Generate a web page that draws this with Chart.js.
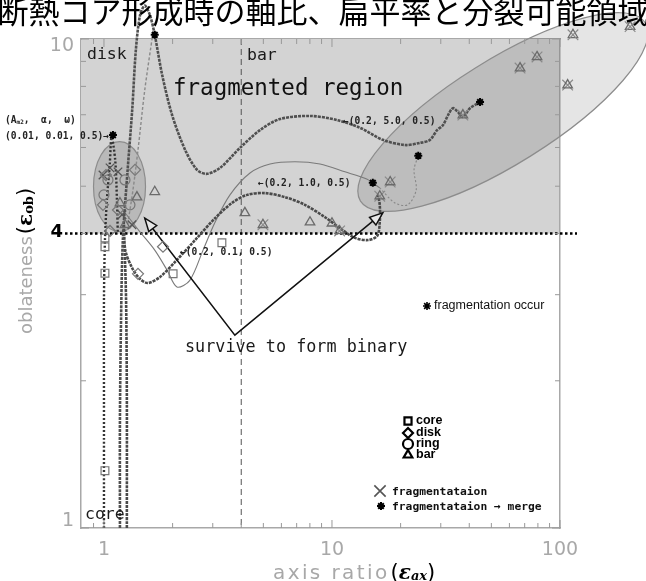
<!DOCTYPE html>
<html>
<head>
<meta charset="utf-8">
<script src="https://cdn.jsdelivr.net/npm/chart.js@4.4.1/dist/chart.umd.min.js"></script>
<style>
  html, body { margin: 0; background: #fff; }
  #wrap { width: 646px; height: 581px; position: relative; }
</style>
</head>
<body>
<div id="wrap"><canvas id="chart"></canvas></div>
<script>
// ---------- Data ----------
const xTickLabels = [1, 10, 100];
const yTickLabels = [1, 4, 10];
const xTicks = [0.8, 0.9, 1, 2, 3, 4, 5, 6, 7, 8, 9, 10, 20, 30, 40, 50, 60, 70, 80, 90, 100];
const yTicks = [1, 2, 3, 4, 5, 6, 7, 8, 9, 10];

// evolution tracks (axis ratio, oblateness)
const track50 = [ // (0.2, 5.0, 0.5)
  [1.175, 1.0], [1.175, 1.66], [1.188, 2.66], [1.21, 3.88], [1.27, 5.40], [1.33, 7.16],
  [1.38, 9.50], [1.44, 11.2], [1.51, 11.7], [1.59, 11.2], [1.67, 10.2], [1.80, 8.44],
  [1.99, 6.99], [2.27, 5.93], [2.56, 5.40], [2.83, 5.30], [3.23, 5.45], [3.95, 5.99],
  [4.83, 6.51], [5.91, 6.86], [8.01, 6.96], [10.5, 6.83], [13.3, 6.58], [16.7, 6.22],
  [20.9, 6.07], [24.3, 6.13], [26.9, 6.22], [28.9, 6.51], [30.7, 6.67], [32.3, 6.99],
  [33.9, 7.22], [35.7, 7.09], [37.5, 6.93], [40.3, 7.22], [44.6, 7.43]
];
const track001 = [ // (0.01, 0.01, 0.5)
  [1.0, 1.0], [1.0, 1.83], [1.0, 2.93], [1.01, 3.88], [1.03, 4.69], [1.06, 5.53],
  [1.08, 6.30], [1.12, 5.66], [1.14, 4.69], [1.15, 4.0]
];
const track01 = [ // (0.2, 0.1, 0.5)
  [1.26, 1.0], [1.26, 1.83], [1.25, 2.93], [1.224, 4.17], [1.24, 3.70], [1.33, 3.40],
  [1.44, 3.23], [1.56, 3.17], [1.76, 3.26], [2.05, 3.50], [2.51, 3.88], [3.07, 4.30],
  [3.64, 4.62], [4.24, 4.80], [5.08, 4.84], [6.22, 4.75], [7.61, 4.58], [9.32, 4.32],
  [11.1, 4.07], [12.6, 3.92], [14.4, 3.88], [15.8, 3.96], [16.2, 4.22], [16.2, 4.58], [15.9, 4.80]
];
const track10 = [ // (0.2, 1.0, 0.5)
  [1.21, 4.47], [1.44, 4.03], [1.67, 3.70], [1.89, 3.37], [2.09, 3.11], [2.38, 3.21],
  [2.72, 3.70], [3.07, 4.22], [3.57, 4.80], [4.37, 5.32], [5.35, 5.55], [6.88, 5.61],
  [8.86, 5.55], [11.4, 5.35], [14.2, 5.17], [16.2, 4.96]
];
const track10tail = [[16.2, 4.96], [18.9, 4.62], [21.5, 4.58], [23.4, 4.91], [22.9, 5.40], [23.9, 5.77]];
const trackMerge = [[1.64, 10.3], [1.51, 7.87], [1.41, 5.93], [1.34, 4.91], [1.27, 4.17]];
const binaryArrow = [[1.51, 4.30], [3.75, 2.48], [16.7, 4.41]];

// end states
const coreMarks = [[1.01, 3.92], [1.01, 3.76], [1.01, 3.32], [1.01, 1.31], [2.01, 3.31], [3.29, 3.83]];
const diskMarks = [[1.41, 3.31], [1.815, 3.76], [0.99, 4.58], [1.02, 5.27], [1.152, 4.47], [1.368, 5.40], [1.063, 4.05]];
const ringMarks = [[1.041, 5.15], [1.236, 5.15], [1.30, 4.58], [1.0, 4.80]];
const barMarks = [[1.175, 4.62], [1.395, 4.75], [1.67, 4.87], [4.15, 4.41], [8.01, 4.22], [10.0, 4.20], [1.236, 4.17]];
const fragBar = [[114, 10.2], [203, 10.6], [79.3, 9.19], [66.8, 8.72], [108, 8.05], [37.5, 6.99],
  [18.0, 5.10], [16.2, 4.77], [4.98, 4.17], [10.8, 4.05]];
const fragOther = [[0.99, 5.27], [1.063, 5.45], [1.152, 5.35], [1.327, 4.17], [1.20, 4.37]];
const fragStars = [[1.67, 10.2], [44.6, 7.43], [23.9, 5.77], [15.1, 5.08], [1.095, 6.36]];

// ---------- Helpers ----------
const pts = arr => arr.map(([x, y]) => ({ x, y }));
const MONO = '"DejaVu Sans Mono", monospace';

function track(data, color, width, dash, order) {
  return {
    data: pts(data), showLine: true, borderColor: color, borderWidth: width,
    borderDash: dash, pointRadius: 0, tension: 0.3, clip: false, order
  };
}
function marks(data, style, r, color, bw) {
  return {
    data: pts(data), showLine: false, pointStyle: style, pointRadius: r,
    borderColor: color, backgroundColor: "rgba(0,0,0,0)", pointBorderWidth: bw,
    clip: false, order: 0
  };
}
function runs(ctx, x, y, parts) {
  let cx = x;
  for (const p of parts) {
    ctx.font = p.f;
    ctx.fillStyle = p.c || "#000";
    ctx.letterSpacing = p.ls || "0px";
    ctx.fillText(p.t, cx, y + (p.dy || 0));
    cx += ctx.measureText(p.t).width + (p.gap || 0);
  }
  ctx.letterSpacing = "0px";
}
function text(ctx, s, x, y, font, color, align) {
  ctx.font = font;
  ctx.fillStyle = color || "#000";
  ctx.textAlign = align || "left";
  ctx.fillText(s, x, y);
  ctx.textAlign = "left";
}
function arrowHead(ctx, fx, fy, tx, ty) {
  const ang = Math.atan2(ty - fy, tx - fx);
  const L = 13, W = 5;
  const bx = tx - L * Math.cos(ang), by = ty - L * Math.sin(ang);
  ctx.beginPath();
  ctx.moveTo(tx, ty);
  ctx.lineTo(bx - W * Math.sin(ang), by + W * Math.cos(ang));
  ctx.lineTo(bx + W * Math.sin(ang), by - W * Math.cos(ang));
  ctx.closePath();
  ctx.fillStyle = "#e8e8e8";
  ctx.fill();
  ctx.stroke();
}

// ---------- Decorations ----------
const decor = {
  id: "decor",
  beforeDatasetsDraw(chart) {
    const { ctx, chartArea: a, scales: { x, y } } = chart;
    const y4 = y.getPixelForValue(4);
    ctx.save();
    // fragmented region (oblateness > 4)
    ctx.fillStyle = "#d3d3d3";
    ctx.fillRect(a.left + 1, a.top + 1, a.right - a.left - 2, y4 - a.top - 1);
    // ellipses
    ctx.strokeStyle = "#8c8c8c";
    ctx.lineWidth = 1.2;
    ctx.fillStyle = "rgba(0,0,0,0.1)";
    ctx.beginPath();
    ctx.ellipse(x.getPixelForValue(56.2), y.getPixelForValue(7.09), 168, 52, -32 * Math.PI / 180, 0, Math.PI * 2);
    ctx.fill(); ctx.stroke();
    ctx.fillStyle = "rgba(0,0,0,0.12)";
    ctx.beginPath();
    ctx.ellipse(x.getPixelForValue(1.17), y.getPixelForValue(4.99), 26, 45, 0, 0, Math.PI * 2);
    ctx.fill(); ctx.stroke();
    // disk / bar boundary
    const x4 = x.getPixelForValue(4);
    ctx.setLineDash([6, 4]);
    ctx.strokeStyle = "#555";
    ctx.lineWidth = 1;
    ctx.beginPath(); ctx.moveTo(x4, a.top); ctx.lineTo(x4, a.bottom); ctx.stroke();
    // oblateness = 4
    ctx.setLineDash([2.5, 2.5]);
    ctx.strokeStyle = "#000";
    ctx.lineWidth = 2.5;
    ctx.beginPath(); ctx.moveTo(65, y4); ctx.lineTo(577, y4); ctx.stroke();
    ctx.restore();
  },
  afterDatasetsDraw(chart) {
    const { ctx, chartArea: a, scales: { x, y } } = chart;
    const draw = Chart.helpers.drawPoint;
    ctx.save();
    ctx.textBaseline = "middle";

    // markers that lie beyond the frame (Chart.js skips them)
    chart.data.datasets.forEach((ds, i) => {
      if (ds.showLine) return;
      const m = ds.pointRadius + ds.pointBorderWidth;
      chart.getDatasetMeta(i).data.forEach(el => {
        const inside = el.x > a.left - m && el.x < a.right + m && el.y > a.top - m && el.y < a.bottom + m;
        if (inside) return;
        ctx.strokeStyle = ds.borderColor;
        ctx.fillStyle = "rgba(0,0,0,0)";
        ctx.lineWidth = ds.pointBorderWidth;
        draw(ctx, { pointStyle: ds.pointStyle, radius: ds.pointRadius, borderWidth: ds.pointBorderWidth }, el.x, el.y);
      });
    });

    // inner ticks on all four sides
    ctx.strokeStyle = "#999";
    ctx.lineWidth = 1;
    ctx.beginPath();
    for (const v of xTicks) {
      const p = x.getPixelForValue(v);
      if (p < a.left + 1) continue;
      const L = xTickLabels.includes(v) ? 8 : 5;
      ctx.moveTo(p, a.bottom); ctx.lineTo(p, a.bottom - L);
      ctx.moveTo(p, a.top); ctx.lineTo(p, a.top + L);
    }
    for (const v of yTicks) {
      const p = y.getPixelForValue(v);
      const L = v === 1 || v === 10 ? 8 : 5;
      ctx.moveTo(a.left, p); ctx.lineTo(a.left + L, p);
      ctx.moveTo(a.right, p); ctx.lineTo(a.right - L, p);
    }
    ctx.stroke();

    // tick labels
    for (const v of xTickLabels) {
      text(ctx, String(v), x.getPixelForValue(v), a.bottom + 22, '19px "DejaVu Sans"', "#a8a8a8", "center");
    }
    for (const v of yTickLabels) {
      const p = y.getPixelForValue(v);
      if (v === 4) text(ctx, "4", 63, p - 1, 'bold 18px "DejaVu Sans"', "#000", "right");
      else text(ctx, String(v), 74, p + (v === 10 ? 7 : -7), '19px "DejaVu Sans"', "#a8a8a8", "right");
    }

    // axis titles
    runs(ctx, 273, 574, [
      { t: "axis ratio", f: '20px "DejaVu Sans"', c: "#a8a8a8", ls: "2.4px", gap: 1 },
      { t: "(", f: '21px "DejaVu Sans"' },
      { t: "ε", f: 'italic bold 20px "DejaVu Serif"' },
      { t: "ax", f: 'italic bold 13px "DejaVu Serif"', dy: 3 },
      { t: ")", f: '21px "DejaVu Sans"' }
    ]);
    ctx.save();
    ctx.translate(27, 334);
    ctx.rotate(-Math.PI / 2);
    runs(ctx, 0, 0, [
      { t: "oblateness", f: '18px "DejaVu Sans"', c: "#a8a8a8", gap: 2 },
      { t: "(", f: '21px "DejaVu Sans"' },
      { t: "ε", f: 'bold 20px "DejaVu Serif"' },
      { t: "ob", f: 'bold 13px "DejaVu Serif"', dy: 3 },
      { t: ")", f: '21px "DejaVu Sans"' }
    ]);
    ctx.restore();

    // region labels
    text(ctx, "disk", 87, 55, "16.5px " + MONO, "#1a1a1a");
    text(ctx, "bar", 247, 56, "16.5px " + MONO, "#1a1a1a");
    text(ctx, "core", 85, 515, "16.5px " + MONO, "#1a1a1a");
    text(ctx, "fragmented region", 173, 89, "22.5px " + MONO, "#111");
    text(ctx, "survive to form binary", 185, 348, "16.8px " + MONO, "#1a1a1a");

    // track labels
    const small = "bold 9.6px " + MONO;
    runs(ctx, 5, 120, [
      { t: "(A", f: small, c: "#222" },
      { t: "m2", f: "bold 6px " + MONO, c: "#222", dy: 2 },
      { t: ",  α,  ω)", f: small, c: "#222" }
    ]);
    text(ctx, "(0.01, 0.01, 0.5)→", 5, 136, small, "#222");
    text(ctx, "←(0.2, 5.0, 0.5)", 343, 121, small, "#222");
    text(ctx, "←(0.2, 1.0, 0.5)", 258, 183, small, "#222");
    text(ctx, "←(0.2, 0.1, 0.5)", 180, 252, small, "#222");

    // binary arrow heads
    ctx.strokeStyle = "#111";
    ctx.lineWidth = 1.5;
    const [t1, v0, t2] = binaryArrow.map(([vx, vy]) => [x.getPixelForValue(vx), y.getPixelForValue(vy)]);
    arrowHead(ctx, v0[0], v0[1], t1[0], t1[1]);
    arrowHead(ctx, v0[0], v0[1], t2[0], t2[1]);

    // keys
    ctx.strokeStyle = "#000";
    ctx.fillStyle = "rgba(0,0,0,0)";
    ctx.lineWidth = 1.6;
    draw(ctx, { pointStyle: "star", radius: 4, borderWidth: 1.6 }, 427, 306);
    text(ctx, "fragmentation occur", 434, 306, '12.5px "Liberation Sans"', "#111");

    const keys = [["rect", "core", 421], ["rectRot", "disk", 433], ["circle", "ring", 444], ["triangle", "bar", 455]];
    for (const [st, lab, ky] of keys) {
      ctx.strokeStyle = "#000";
      ctx.fillStyle = "#fff";
      ctx.lineWidth = 2.2;
      draw(ctx, { pointStyle: st, radius: 5, borderWidth: 2.2 }, 408, ky);
      text(ctx, lab, 416, ky, 'bold 12.5px "Liberation Sans"', "#000");
    }

    ctx.strokeStyle = "#555";
    ctx.fillStyle = "rgba(0,0,0,0)";
    ctx.lineWidth = 1.6;
    draw(ctx, { pointStyle: "crossRot", radius: 8, borderWidth: 1.6 }, 380, 491);
    ctx.strokeStyle = "#000";
    ctx.lineWidth = 2;
    draw(ctx, { pointStyle: "star", radius: 4, borderWidth: 2 }, 381, 506);
    text(ctx, "fragmentataion", 392, 492, "bold 11.3px " + MONO, "#111");
    text(ctx, "fragmentataion → merge", 392, 507, "bold 11.3px " + MONO, "#111");

    // title (cut by the top edge)
    ctx.textBaseline = "alphabetic";
    text(ctx, "断熱コア形成時の軸比、扁平率と分裂可能領域", 323, 23, '31px "Noto Sans CJK JP"', "#000", "center");
    ctx.restore();
  }
};

// ---------- Chart ----------
const logAxis = (pos, min, max, size) => ({
  type: "logarithmic", position: pos, min, max,
  grid: { display: false },
  border: { display: true, color: "#a8a8a8", width: 1.5 },
  ticks: { display: false },
  afterFit(s) { if (pos === "left" || pos === "right") s.width = size; else s.height = size; }
});

new Chart(document.getElementById("chart"), {
  type: "scatter",
  data: {
    datasets: [
      track(track50, "#505050", 2.6, [3, 1], 3),
      track(track001, "#333", 2.4, [2, 2], 3),
      track(track01, "#4a4a4a", 2.6, [3, 1], 3),
      track(track10, "#7a7a7a", 1.1, [], 4),
      track(track10tail, "#888", 1.1, [2, 2], 4),
      track(trackMerge, "#8a8a8a", 1.4, [3, 2], 4),
      { ...track(binaryArrow, "#111", 1.5, [], 2), tension: 0 },
      marks(coreMarks, "rect", 5.5, "#777", 1.2),
      marks(diskMarks, "rectRot", 5.5, "#777", 1.2),
      marks(ringMarks, "circle", 5, "#777", 1.2),
      marks(barMarks, "triangle", 5.5, "#6a6a6a", 1.3),
      marks(fragBar, "triangle", 5.5, "#6a6a6a", 1.3),
      marks(fragBar, "crossRot", 7.5, "#8a8a8a", 1.2),
      marks(fragOther, "crossRot", 6, "#555", 1.3),
      marks(fragStars, "star", 4, "#000", 2)
    ]
  },
  options: {
    responsive: true,
    maintainAspectRatio: false,
    animation: false,
    layout: { padding: 0 },
    plugins: { legend: { display: false }, tooltip: { enabled: false } },
    scales: {
      x: logAxis("bottom", 0.793, 100, 53),
      x2: logAxis("top", 0.793, 100, 39),
      y: logAxis("left", 1, 10, 81),
      y2: logAxis("right", 1, 10, 86)
    }
  },
  plugins: [decor]
});
</script>
</body>
</html>
